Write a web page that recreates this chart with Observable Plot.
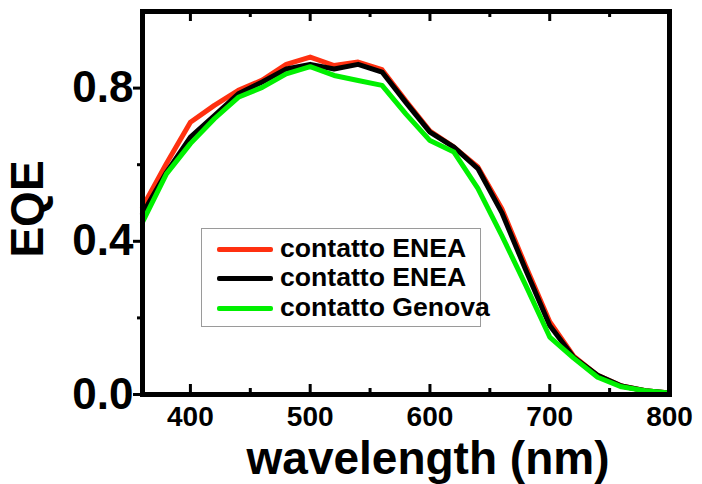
<!DOCTYPE html>
<html><head><meta charset="utf-8">
<script src="https://cdn.jsdelivr.net/npm/d3@7"></script>
<script src="https://cdn.jsdelivr.net/npm/@observablehq/plot@0.6"></script>
<style>
body{margin:0;background:#fff;}
#wrap{position:relative;width:702px;height:484px;font-family:"Liberation Sans",Arial,sans-serif;}
#legend{position:absolute;left:201px;top:228px;width:280px;height:99px;border:1px solid #9a9a9a;box-sizing:border-box;}
.sw{position:absolute;left:15px;width:56px;height:5px;border-radius:2px;}
.lab{position:absolute;left:78px;font-weight:bold;font-size:26.6px;white-space:nowrap;line-height:1;color:#000;}
</style>
</head><body>
<div id="wrap"><div id="chart"></div><div id="legend"></div></div>
<script>
const wavelength = [360,380,400,420,440,460,480,500,520,540,560,580,600,620,640,660,680,700,720,740,760,780,800];
const eneaRed   = [0.489,0.603,0.711,0.755,0.794,0.821,0.862,0.881,0.859,0.868,0.848,0.766,0.688,0.646,0.594,0.485,0.335,0.19,0.10,0.05,0.022,0.01,0.004];
const eneaBlack = [0.472,0.58,0.672,0.728,0.785,0.816,0.85,0.862,0.85,0.862,0.842,0.762,0.685,0.646,0.59,0.475,0.325,0.18,0.097,0.05,0.022,0.01,0.004];
const genova    = [0.45,0.576,0.655,0.72,0.776,0.802,0.837,0.856,0.833,0.82,0.807,0.732,0.663,0.633,0.538,0.415,0.285,0.15,0.095,0.045,0.02,0.01,0.004];
const seriesLabels = ["contatto ENEA","contatto ENEA","contatto Genova"];
const seriesColors = ["#ff3010","#000000","#00f000"];
const xMajor = [400,500,600,700,800];
const xMinor = [450,550,650,750];
const yMajor = [0.0,0.4,0.8];
const yMinor = [0.2,0.6];
const xLabel = "wavelength (nm)";
const yLabel = "EQE";

const seriesValues = [eneaRed, eneaBlack, genova];
const font = '"Liberation Sans", Arial, sans-serif';

const lineMarks = seriesValues.map((vals, s) =>
  Plot.line(wavelength.map((w, i) => ({w, v: vals[i]})), {x: "w", y: "v", stroke: seriesColors[s], strokeWidth: 5, strokeLinejoin: "round"})
);

const chart = Plot.plot({
  width: 702, height: 484,
  marginLeft: 142, marginRight: 33, marginTop: 11, marginBottom: 90,
  style: {fontFamily: font, background: "white", color: "black"},
  x: {domain: [360, 800]},
  y: {domain: [0, 1]},
  marks: [
    ...lineMarks,
    Plot.ruleX(xMajor, {x: d => d, insetTop: 373, strokeWidth: 3}),
    Plot.ruleX(xMinor, {x: d => d, insetTop: 377, strokeWidth: 3}),
    Plot.ruleX(xMajor, {x: d => d, insetBottom: 373, strokeWidth: 3}),
    Plot.ruleX(xMinor, {x: d => d, insetBottom: 377, strokeWidth: 3}),
    Plot.axisX({ticks: xMajor, tickSize: 0, tickPadding: 12, fontSize: 28, fontWeight: "bold", label: null, tickFormat: d => String(d)}),
    Plot.axisY({ticks: yMajor, tickSize: 9, tickPadding: 0, fontSize: 44, fontWeight: "bold", strokeWidth: 3, label: null, tickFormat: d3.format(".1f")}),
    Plot.axisY({ticks: yMinor, tickSize: 5, strokeWidth: 3, label: null, tickFormat: () => ""}),
    Plot.text([yLabel], {text: d => d, frameAnchor: "left", textAnchor: "middle", rotate: -90, dx: -114, dy: 6, fontSize: 46, fontWeight: "bold"}),
    Plot.text([xLabel], {text: d => d, frameAnchor: "bottom", textAnchor: "middle", dx: 22, dy: 47, lineAnchor: "top", fontSize: 46, fontWeight: "bold"}),
    Plot.frame({stroke: "black", strokeWidth: 5})
  ]
});
document.getElementById("chart").appendChild(chart);

const legend = document.getElementById("legend");
const rowCenters = [20, 49, 79];
seriesLabels.forEach((lab, i) => {
  const sw = document.createElement("div");
  sw.className = "sw";
  sw.style.background = seriesColors[i];
  sw.style.top = (rowCenters[i] - 2.5) + "px";
  legend.appendChild(sw);
  const t = document.createElement("div");
  t.className = "lab";
  t.textContent = lab;
  t.style.top = (rowCenters[i] + 8 - 22.5) + "px";
  legend.appendChild(t);
});
</script>
</body></html>
